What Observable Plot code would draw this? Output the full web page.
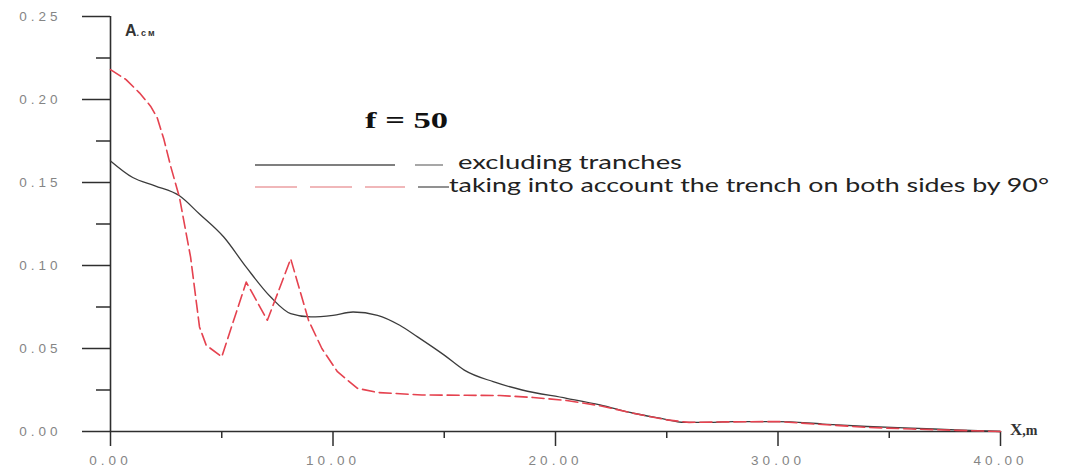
<!DOCTYPE html>
<html>
<head>
<meta charset="utf-8">
<script src="https://cdn.jsdelivr.net/npm/d3@7"></script>
<script src="https://cdn.jsdelivr.net/npm/@observablehq/plot@0.6"></script>
<style>
  body { margin: 0; background: #fff; }
  #chart svg { display: block; background: #fff; }
  g[aria-label$="tick label"] text { fill: #858585; letter-spacing: 4px; }
</style>
</head>
<body>
<div id="chart"></div>
<script>
// Amplitude A (cm) versus distance X (m), f = 50
const distanceExcl = [0, 1, 2, 3.1, 4, 5.1, 6.1, 7.2, 8.1, 9, 10, 10.9, 12, 13, 13.8, 15, 15.9, 17.2, 18.5, 20.5, 22, 23.5, 24.7, 25.8, 27, 28, 30, 32, 34, 36, 38, 40];
const ampExcl      = [0.163, 0.153, 0.148, 0.142, 0.131, 0.117, 0.099, 0.081, 0.071, 0.069, 0.070, 0.072, 0.070, 0.064, 0.057, 0.046, 0.037, 0.030, 0.025, 0.020, 0.016, 0.011, 0.008, 0.0055, 0.0055, 0.006, 0.006, 0.0045, 0.003, 0.002, 0.001, 0];

const distanceTrench = [0, 0.7, 1.3, 1.8, 2.1, 2.4, 2.7, 3.1, 3.6, 4.0, 4.3, 5.0, 6.1, 7.05, 8.1, 8.9, 9.5, 10.2, 11.1, 12, 14, 16, 17.5, 19, 20.5, 22, 23.5, 25, 26, 28, 30, 32, 34, 36, 38, 40];
const ampTrench      = [0.218, 0.212, 0.204, 0.196, 0.189, 0.176, 0.160, 0.141, 0.105, 0.063, 0.052, 0.045, 0.090, 0.067, 0.104, 0.067, 0.050, 0.036, 0.026, 0.0235, 0.022, 0.0218, 0.0217, 0.0205, 0.0187, 0.0155, 0.011, 0.007, 0.0055, 0.0058, 0.006, 0.0042, 0.0025, 0.0015, 0.0007, 0];

const xMajor = [0, 10, 20, 30, 40];
const xMinor = [5, 15, 25, 35];
const yMajor = [0, 0.05, 0.10, 0.15, 0.20, 0.25];
const yMinor = [0.025, 0.075, 0.125, 0.175, 0.225];

const seriesNames = ["excluding tranches", "taking into account the trench on both sides by 90°"];
const titleText = "f = 50";

const excl = distanceExcl.map((x, i) => ({x, a: ampExcl[i]}));
const trench = distanceTrench.map((x, i) => ({x, a: ampTrench[i]}));

const axisColor = "#2e2e2e";
const tickFont = "'Liberation Sans', Arial, sans-serif";

const chart = Plot.plot({
  width: 1067,
  height: 470,
  marginLeft: 110,
  marginRight: 67,
  marginTop: 16,
  marginBottom: 39,
  x: {domain: [0, 40]},
  y: {domain: [0, 0.25]},
  style: {fontFamily: tickFont, fontSize: "13.5px"},
  marks: [
    Plot.axisY(yMajor, {tickSize: 28, tickPadding: 21, tickFormat: d3.format(".2f"), stroke: axisColor, strokeWidth: 1.5, label: null}),
    Plot.axisY(yMinor, {tickSize: 14, tickFormat: () => "", stroke: axisColor, strokeWidth: 1.5, label: null}),
    Plot.axisX(xMajor, {tickSize: 15, tickPadding: 9, tickFormat: d3.format(".2f"), stroke: axisColor, strokeWidth: 1.5, label: null}),
    Plot.axisX(xMinor, {tickSize: 7, tickFormat: () => "", stroke: axisColor, strokeWidth: 1.5, label: null}),
    Plot.ruleX([0], {y1: 0, y2: 0.25, stroke: axisColor, strokeWidth: 1.6}),
    Plot.ruleY([0], {x1: 0, x2: 40, stroke: axisColor, strokeWidth: 1.6}),
    Plot.line(excl, {x: "x", y: "a", curve: "monotone-x", stroke: "#3c3c3c", strokeWidth: 1.3}),
    Plot.line(trench, {x: "x", y: "a", curve: "linear", stroke: "#e5424f", strokeWidth: 1.6, strokeDasharray: "12,5"})
  ]
});

document.getElementById("chart").appendChild(chart);

// Annotations: axis names, title and legend
const svg = d3.select(chart);
const notes = svg.append("g").attr("text-anchor", "start");

const aLabel = notes.append("text").attr("x", 125).attr("y", 36)
  .attr("fill", "#333").attr("font-family", tickFont);
aLabel.append("tspan").attr("font-size", 16).attr("font-weight", "bold").text("A");
aLabel.append("tspan").attr("font-size", 9).attr("font-weight", "bold").attr("letter-spacing", 2).text(".см");

const xLabel = notes.append("text").attr("x", 1010).attr("y", 435)
  .attr("fill", "#333").attr("font-family", "'Liberation Serif', serif").attr("font-weight", "bold");
xLabel.append("tspan").attr("font-size", 17).text("X");
xLabel.append("tspan").attr("font-size", 14).text(",m");

notes.append("text").attr("x", 365).attr("y", 128)
  .attr("font-family", "'Liberation Serif', 'Times New Roman', serif")
  .attr("font-weight", "bold").attr("font-size", 23).attr("fill", "#111")
  .attr("textLength", 83).attr("lengthAdjust", "spacingAndGlyphs")
  .text(titleText);

// legend row 1: solid line
notes.append("line").attr("x1", 255).attr("x2", 395).attr("y1", 165).attr("y2", 165)
  .attr("stroke", "#555").attr("stroke-width", 1.3);
notes.append("line").attr("x1", 415).attr("x2", 443).attr("y1", 165).attr("y2", 165)
  .attr("stroke", "#777").attr("stroke-width", 1.3);
notes.append("text").attr("x", 458).attr("y", 169)
  .attr("font-family", "Lato, 'Open Sans', sans-serif").attr("font-size", 20).attr("fill", "#222")
  .attr("textLength", 224).attr("lengthAdjust", "spacingAndGlyphs")
  .text(seriesNames[0]);

// legend row 2: dashed line
notes.append("line").attr("x1", 255).attr("x2", 405).attr("y1", 187).attr("y2", 187)
  .attr("stroke", "#eba0a3").attr("stroke-width", 1.6).attr("stroke-dasharray", "42,13");
notes.append("line").attr("x1", 418).attr("x2", 449).attr("y1", 187).attr("y2", 187)
  .attr("stroke", "#555").attr("stroke-width", 1.3);
notes.append("text").attr("x", 449).attr("y", 192)
  .attr("font-family", "Lato, 'Open Sans', sans-serif").attr("font-size", 20).attr("fill", "#222")
  .attr("textLength", 600).attr("lengthAdjust", "spacingAndGlyphs")
  .text(seriesNames[1]);
</script>
</body>
</html>
